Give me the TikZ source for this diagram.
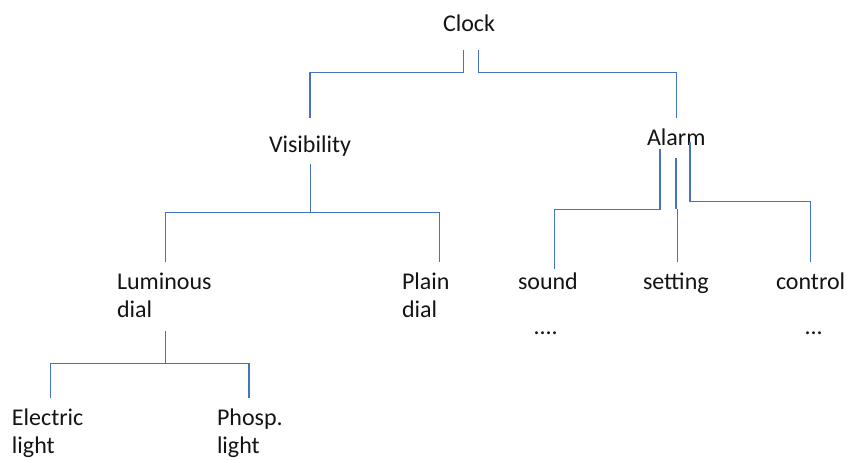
\documentclass[tikz,border=0pt]{standalone}
\usepackage{fontspec}
\setmainfont{Carlito}
\definecolor{linkblue}{RGB}{68,114,196}
\definecolor{txt}{RGB}{20,20,20}
\begin{document}
\begin{tikzpicture}[x=1pt,y=-1pt,
  lbl/.style={anchor=base west,inner sep=0pt,outer sep=0pt,text=txt,
    font=\fontsize{24}{28.4}\selectfont},
  link/.style={draw=linkblue,line width=1.2pt}]
\useasboundingbox (0,0) rectangle (847,460);
\node[lbl] (clock) at (443,31.7) {Clock};
\node[lbl] (visib) at (269,152.5) {Visibility};
\node[lbl] (alarm) at (647,146) {Alarm};
\node[lbl] (lum) at (117,289.5) {\begin{tabular}[t]{@{}l@{}}Luminous\\dial\end{tabular}};
\node[lbl] (plain) at (402,289.5) {\begin{tabular}[t]{@{}l@{}}Plain\\dial\end{tabular}};
\node[lbl] (sound) at (518,289.5) {sound};
\node[lbl] (setting) at (643,289.5) {setting};
\node[lbl] (control) at (776,289.5) {control};
\node[lbl] (dotsa) at (533.5,334) {....};
\node[lbl] (dotsb) at (804.5,334) {...};
\node[lbl] (elec) at (12,425) {\begin{tabular}[t]{@{}l@{}}Electric\\light\end{tabular}};
\node[lbl] (phosp) at (217,425) {\begin{tabular}[t]{@{}l@{}}Phosp.\\light\end{tabular}};
% Clock -> Visibility / Alarm
\draw[link] ([xshift=20.3pt,yshift=-18.3pt]clock.base west) -- ++(0,22.7)
  -| ([xshift=41pt,yshift=34.5pt]visib.base west);
\draw[link] ([xshift=35.3pt,yshift=-18.3pt]clock.base west) -- ++(0,22.7)
  -| ([xshift=29.7pt,yshift=28pt]alarm.base west);
% Visibility -> Luminous / Plain
\draw[link] ([xshift=41.5pt,yshift=-11.5pt]visib.base west) -- ++(0,48.7) coordinate (vj)
  -| ([xshift=48.7pt,yshift=27.8pt]lum.base west);
\draw[link] (vj) -| ([xshift=37.3pt,yshift=27.8pt]plain.base west);
% Luminous -> Electric / Phosp
\draw[link] ([xshift=48.7pt,yshift=-41.5pt]lum.base west) -- ++(0,32.3) coordinate (lj)
  -| ([xshift=38.7pt,yshift=27.3pt]elec.base west);
\draw[link] (lj) -| ([xshift=32pt,yshift=27.3pt]phosp.base west);
% Alarm -> sound / setting / control
\draw[link] ([xshift=13pt,yshift=-3.3pt]alarm.base west) -- ++(0,60)
  -| ([xshift=36.3pt,yshift=20.2pt]sound.base west);
\draw[link] ([xshift=29pt,yshift=-12pt]alarm.base west) -- ++(0,51.3) ++(1.7,0)
  -- ([xshift=34.7pt,yshift=27.8pt]setting.base west);
\draw[link] ([xshift=43pt,yshift=4.3pt]alarm.base west) -- ++(0,60)
  -| ([xshift=34.7pt,yshift=27.8pt]control.base west);
\end{tikzpicture}
\end{document}
